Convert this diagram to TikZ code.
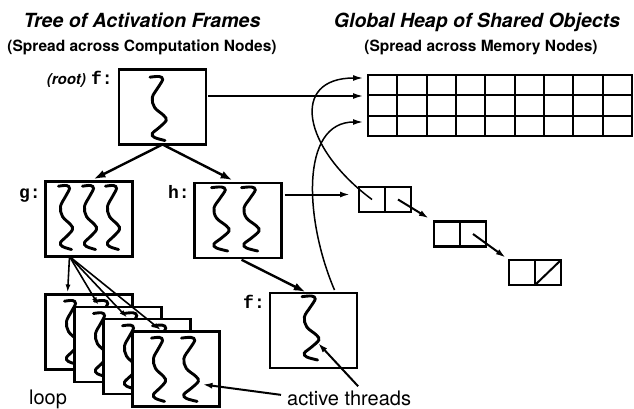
\documentclass[tikz,border=0pt]{standalone}
\usepackage{fontspec}
\setmainfont{TeX Gyre Heros}
\setmonofont{Liberation Mono}
\usepackage{tikz}
\usetikzlibrary{arrows.meta,calc}
\tikzset{
  actbox/.style={draw, line width=2.4pt, fill=white, minimum width=87pt, minimum height=75pt, inner sep=0pt, outer sep=0pt},
  cellbox/.style={draw, line width=2.2pt, minimum width=26pt, minimum height=25pt, inner sep=0pt, outer sep=0pt},
  treearrow/.style={line width=2.4pt, -{Latex[length=12pt,width=8pt]}},
  fanarrow/.style={line width=1.6pt, -{Latex[length=8pt,width=5pt]}},
  nextarrow/.style={line width=2pt, -{Latex[length=10pt,width=6pt]}},
  ptr/.style={line width=1.5pt, -{Latex[length=10pt,width=6pt]}},
  fname/.style={font=\ttfamily\bfseries\fontsize{18}{18}\selectfont, inner sep=0pt, anchor=base east},
  title/.style={font=\bfseries\itshape\fontsize{19.5}{20}\selectfont, inner sep=0pt, anchor=base},
  subtitle/.style={font=\bfseries\fontsize{15.5}{16}\selectfont, inner sep=0pt, anchor=base},
  plain/.style={font=\fontsize{20}{20}\selectfont, inner sep=0pt},
  pics/thread/.style={code={\draw[line width=2.9pt, line cap=round] plot[smooth, tension=0.6] coordinates {(0,0.7) (8,0) (11,3) (7,11) (2,21) (4,31) (12,39) (14,44) (8,51) (2,57) (4,61) (13,64)};}},
}
\begin{document}
\begin{tikzpicture}[x=1pt, y=-1pt]
\useasboundingbox (0,0) rectangle (634,409);
\node[title] (treetitle) at (142,28) {Tree of Activation Frames};
\node[subtitle] (treesub) at (142,52) {(Spread across Computation Nodes)};
\node[title] (heaptitle) at (477,28) {Global Heap of Shared Objects};
\node[subtitle] (heapsub) at (481,52) {(Spread across Memory Nodes)};
\node[actbox] (root) at (162.5,107) {};
\pic[xscale=1.15] at ($(root.north west)+(31,7)$) {thread};
\node[fname] (rootname) at (113,85) {f:};
\node[font=\bfseries\itshape\fontsize{15}{15}\selectfont, inner sep=0pt, anchor=base east] (rootnote) at (86,85) {(root)};
\node[actbox] (g) at (89,219) {};
\foreach \dx in {13,37,60} \pic at ($(g.north west)+(\dx,4)$) {thread};
\node[fname] (gname) at (41,198) {g:};
\node[actbox] (h) at (238,220.5) {};
\foreach \dx in {17,47} \pic[xscale=1.25] at ($(h.north west)+(\dx,4)$) {thread};
\node[fname] (hname) at (190,198) {h:};
\foreach \n in {1,...,4}{
  \node[actbox] (loop\n) at ({89+29*(\n-1)},{332+12.3*(\n-1)}) {};
  \pic at ($(loop\n.north west)+(19,6)$) {thread};
  \pic[xscale=1.2] at ($(loop\n.north west)+(49,6)$) {thread};
}
\node[plain, anchor=base] (loop) at (48,404) {loop};
\node[actbox] (f2) at (313.5,330.5) {};
\pic[xscale=1.2] at ($(f2.north west)+(32,3)$) {thread};
\node[fname] (f2name) at (265,308) {f:};
\node[draw, line width=2.6pt, minimum width=264pt, minimum height=61pt, inner sep=0pt, outer sep=0pt, anchor=north west] (heap) at (368,75) {};
\foreach \i in {1,...,8} \draw[line width=2.2pt] ($(heap.north west)+(\i*29.33,0)$) -- ($(heap.south west)+(\i*29.33,0)$);
\foreach \j in {1,2} \draw[line width=2.2pt] ($(heap.north west)+(0,\j*20.33)$) -- ($(heap.north east)+(0,\j*20.33)$);
\node[cellbox] (c1a) at (372,199.5) {};
\node[cellbox, anchor=west] (c1b) at (c1a.east) {};
\node[cellbox] (c2a) at (447,234) {};
\node[cellbox, anchor=west] (c2b) at (c2a.east) {};
\node[cellbox] (c3a) at (522,272.5) {};
\node[cellbox, anchor=west] (c3b) at (c3a.east) {};
\draw[line width=2pt] (c3b.south west) -- (c3b.north east);
\coordinate (row1) at ($(heap.north west)+(-5,3)$);
\coordinate (row2) at ($(heap.north west)+(-5,21)$);
\coordinate (row3) at ($(heap.north west)+(-5,47)$);
\coordinate (c1in) at ($(c1a.west)+(-9,-5)$);
\coordinate (fout) at ($(f2.north)+(21,-3)$);
\coordinate (gfoot) at ($(g.south west)+(24,0)$);
\draw[treearrow, shorten >=5pt] (root.south) -- (g.north);
\draw[treearrow, shorten >=6pt] (root.south) -- (h.north);
\draw[treearrow, shorten <=4pt, shorten >=2pt] (h.south) -- ($(f2.north)+(-6,0)$);
\foreach \n/\dx in {1/22,2/25,3/25,4/30} \draw[fanarrow, shorten >=2pt] (gfoot) -- ($(loop\n.north west)+(\dx,0)$);
\draw[ptr, shorten <=2pt] (root.east |- row2) -- (row2);
\draw[ptr] (c1a.center) .. controls +(-70,-52) and +(-73,0) .. (row1);
\draw[ptr] (fout) .. controls +(-30,-70) and +(-63,0) .. (row3);
\draw[nextarrow, shorten <=3pt] (h.east |- c1in) -- (c1in);
\draw[nextarrow, shorten >=6pt] (c1b.center) -- (c2a.north west);
\draw[nextarrow, shorten >=4pt] (c2b.center) -- (c3a.north west);
\node[plain, anchor=base west] (active) at (287,405) {active threads};
\draw[nextarrow] ($(active.west)+(-6,-3)$) -- ($(loop4.north west)+(70,53)$);
\draw[nextarrow] ($(active.north)+(9,-4)$) -- ($(f2.north west)+(48,50)$);
\end{tikzpicture}
\end{document}
